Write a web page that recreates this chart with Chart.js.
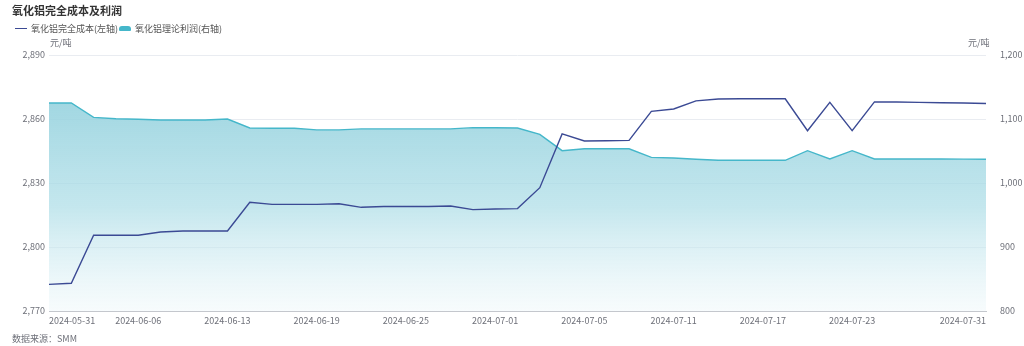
<!DOCTYPE html>
<html>
<head>
<meta charset="utf-8">
<script src="https://cdn.jsdelivr.net/npm/chart.js@4.4.1/dist/chart.umd.min.js"></script>
<style>
  html, body { margin: 0; padding: 0; background: #fff; }
  body { width: 1024px; height: 346px; position: relative; overflow: hidden;
         font-family: "Noto Sans CJK SC", "Noto Sans", sans-serif; }
  #wrap { position: absolute; left: 0; top: 0; width: 1024px; height: 346px; }
  .txt { position: absolute; white-space: nowrap; color: #6e7079; font-size: 9px; line-height: 1; }
  #titulo { left: 12px; top: 5px; font-size: 11px; font-weight: bold; color: #333; }
  .leg { position: absolute; top: 23px; height: 11px; display: flex; align-items: center;
         font-size: 9px; color: #555; white-space: nowrap; }
  .leg i { display: inline-block; margin-right: 4px; }
  #fonte { left: 12px; top: 334px; }
</style>
</head>
<body>
<div id="wrap"><canvas id="grafico"></canvas></div>
<div id="titulo" class="txt">氧化铝完全成本及利润</div>
<div class="leg" style="left:15px"><i style="width:12px;height:1.6px;background:#3b4a94"></i>氧化铝完全成本(左轴)</div>
<div class="leg" style="left:119px"><i style="width:12px;height:5px;border-radius:3px 3px 1px 1px;background:#45b7ca"></i>氧化铝理论利润(右轴)</div>
<div class="txt" style="left:50px;top:38px">元/吨</div>
<div class="txt" style="left:968px;top:38px">元/吨</div>
<div id="fonte" class="txt">数据来源：SMM</div>

<script>
// datas de negociacao
const datas = [
  "2024-05-31", "2024-06-03", "2024-06-04", "2024-06-05", "2024-06-06", "2024-06-07",
  "2024-06-11", "2024-06-12", "2024-06-13", "2024-06-14", "2024-06-17", "2024-06-18",
  "2024-06-19", "2024-06-20", "2024-06-21", "2024-06-24", "2024-06-25", "2024-06-26",
  "2024-06-27", "2024-06-28", "2024-07-01", "2024-07-02", "2024-07-03", "2024-07-04",
  "2024-07-05", "2024-07-08", "2024-07-09", "2024-07-10", "2024-07-11", "2024-07-12",
  "2024-07-15", "2024-07-16", "2024-07-17", "2024-07-18", "2024-07-19", "2024-07-22",
  "2024-07-23", "2024-07-24", "2024-07-25", "2024-07-26", "2024-07-29", "2024-07-30",
  "2024-07-31"
];

// custo completo (eixo esquerdo)
const custo = [
  2782.5, 2783, 2805.5, 2805.5, 2805.5, 2807, 2807.5, 2807.5, 2807.5, 2821,
  2820, 2820, 2820, 2820.3, 2818.6, 2819, 2819, 2819, 2819.2, 2817.5,
  2817.8, 2818, 2827.8, 2853, 2849.7, 2849.8, 2850, 2863.6, 2864.7, 2868.5,
  2869.4, 2869.5, 2869.5, 2869.5, 2854.5, 2867.8, 2854.5, 2868, 2868, 2867.8,
  2867.6, 2867.5, 2867.3
];

// lucro teorico (eixo direito)
const lucro = [
  1125, 1125, 1102.5, 1100.5, 1099.5, 1098.5, 1098.5, 1098.5, 1100, 1086,
  1085.5, 1085.5, 1083, 1083, 1084.5, 1084.5, 1084.5, 1084.5, 1084.5, 1086.5,
  1086.3, 1086, 1076, 1050.5, 1053.5, 1053.5, 1053.5, 1040, 1039, 1037,
  1035.5, 1035.5, 1035.5, 1035.5, 1050.5, 1037.5, 1050.5, 1037.5, 1037.5, 1037.5,
  1037.5, 1037.3, 1037
];

const eixoEsq = { min: 2770, max: 2890, passo: 30 };
const eixoDir = { min: 800, max: 1200, passo: 100 };

const fonteTick = { family: '"Noto Sans CJK SC", "Noto Sans", sans-serif', size: 9 };

function gradienteArea(context) {
  let area = context.chart.chartArea;
  if (!area) return "rgba(69,183,202,0.4)";
  let g = context.chart.ctx.createLinearGradient(0, area.top + 45, 0, area.bottom);
  g.addColorStop(0, "rgba(150,210,222,0.9)");
  g.addColorStop(0.5, "rgba(170,220,230,0.7)");
  g.addColorStop(1, "rgba(235,246,249,0.4)");
  return g;
}

new Chart(document.getElementById("grafico"), {
  type: "line",
  data: {
    labels: datas,
    datasets: [
      {
        label: "氧化铝完全成本(左轴)",
        data: custo,
        yAxisID: "y",
        borderColor: "#3b4a94",
        borderWidth: 1.4,
        pointRadius: 0,
        tension: 0,
        fill: false
      },
      {
        label: "氧化铝理论利润(右轴)",
        data: lucro,
        yAxisID: "y1",
        borderColor: "#45b7ca",
        borderWidth: 1.4,
        pointRadius: 0,
        tension: 0,
        fill: "start",
        backgroundColor: gradienteArea
      }
    ]
  },
  options: {
    responsive: true,
    maintainAspectRatio: false,
    animation: false,
    layout: { padding: { top: 55, left: 0, right: 0, bottom: 0 } },
    plugins: { legend: { display: false }, tooltip: { enabled: false } },
    scales: {
      x: {
        grid: { display: false, drawTicks: false },
        border: { display: true, color: "#c4c7cd", width: 1 },
        ticks: {
          autoSkip: false,
          maxRotation: 0,
          align: "inner",
          padding: 4,
          color: "#6e7079",
          font: fonteTick,
          callback: function (v, i) {
            if ((i % 4 == 0 && i <= 36) || i == datas.length - 1) return datas[i];
            return "";
          }
        },
        afterFit: function (s) { s.height = 35; }
      },
      y: {
        position: "left",
        min: eixoEsq.min,
        max: eixoEsq.max,
        grid: { color: "#e9ecf1", drawTicks: false },
        border: { display: false },
        ticks: {
          stepSize: eixoEsq.passo,
          padding: 4,
          color: "#6e7079",
          font: fonteTick,
          callback: function (v) { return v.toLocaleString("en-US"); }
        },
        afterFit: function (s) { s.width = 49; }
      },
      y1: {
        position: "right",
        min: eixoDir.min,
        max: eixoDir.max,
        grid: { display: false },
        border: { display: false },
        ticks: {
          stepSize: eixoDir.passo,
          padding: 6,
          color: "#6e7079",
          font: fonteTick,
          callback: function (v) { return v.toLocaleString("en-US"); }
        },
        afterFit: function (s) { s.width = 38; }
      }
    }
  }
});
</script>
</body>
</html>
